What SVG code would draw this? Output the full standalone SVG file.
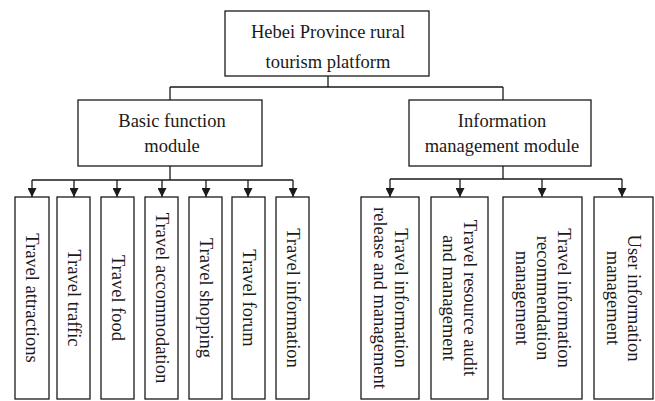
<svg xmlns="http://www.w3.org/2000/svg" width="655" height="401" viewBox="0 0 655 401">
<defs>
<style>
.box{fill:#fff;stroke:#1a1a1a;stroke-width:1.3}
.t{font-family:"Liberation Serif","Times New Roman",serif;font-size:18.5px;fill:#1a1a1a;text-anchor:middle}
.v{font-family:"Liberation Serif","Times New Roman",serif;font-size:18.5px;fill:#1a1a1a;text-anchor:middle}
.c{fill:none;stroke:#1a1a1a;stroke-width:1.3}
</style>
<marker id="ah" markerUnits="userSpaceOnUse" markerWidth="9" markerHeight="9" refX="9" refY="4.5" orient="auto">
<path d="M0,0 L9,4.5 L0,9 z" fill="#1a1a1a"/>
</marker>
</defs>
<rect width="655" height="401" fill="#fff"/>
<g id="connectors">
<path class="c" d="M328,76 V87 M170,87 H503 M170,87 V100 M503,87 V100"/>
<path class="c" d="M170,166 V180 M32,180 H293"/>
<path class="c" d="M503,166 V179 M390,179 H622"/>
<path class="c" marker-end="url(#ah)" d="M32,180 V197"/>
<path class="c" marker-end="url(#ah)" d="M74,180 V197"/>
<path class="c" marker-end="url(#ah)" d="M117,180 V197"/>
<path class="c" marker-end="url(#ah)" d="M162,180 V197"/>
<path class="c" marker-end="url(#ah)" d="M206,180 V197"/>
<path class="c" marker-end="url(#ah)" d="M248,180 V197"/>
<path class="c" marker-end="url(#ah)" d="M293,180 V197"/>
<path class="c" marker-end="url(#ah)" d="M390,179 V197"/>
<path class="c" marker-end="url(#ah)" d="M460,179 V197"/>
<path class="c" marker-end="url(#ah)" d="M542,179 V197"/>
<path class="c" marker-end="url(#ah)" d="M622,179 V197"/>
</g>
<g id="root">
<rect class="box" x="225" y="11" width="204" height="65"/>
<text class="t" x="328" y="38">Hebei Province rural</text>
<text class="t" x="328" y="68">tourism platform</text>
</g>
<g id="basic">
<rect class="box" x="78" y="100" width="184" height="66"/>
<text class="t" x="172" y="127">Basic function</text>
<text class="t" x="172" y="152">module</text>
</g>
<g id="info">
<rect class="box" x="409" y="100" width="182" height="66"/>
<text class="t" x="502" y="127">Information</text>
<text class="t" x="502" y="152">management module</text>
</g>
<g id="b1"><rect class="box" x="15" y="197" width="34" height="202"/><text class="v" transform="translate(32,298) rotate(90)" y="6">Travel attractions</text></g>
<g id="b2"><rect class="box" x="57" y="197" width="33" height="202"/><text class="v" transform="translate(73.5,298) rotate(90)" y="6">Travel traffic</text></g>
<g id="b3"><rect class="box" x="101" y="197" width="33" height="202"/><text class="v" transform="translate(117.5,298) rotate(90)" y="6">Travel food</text></g>
<g id="b4"><rect class="box" x="145" y="197" width="33" height="202"/><text class="v" transform="translate(161.5,298) rotate(90)" y="6">Travel accommodation</text></g>
<g id="b5"><rect class="box" x="189" y="197" width="33" height="202"/><text class="v" transform="translate(205.5,298) rotate(90)" y="6">Travel shopping</text></g>
<g id="b6"><rect class="box" x="232" y="197" width="33" height="202"/><text class="v" transform="translate(248.5,298) rotate(90)" y="6">Travel forum</text></g>
<g id="b7"><rect class="box" x="276" y="197" width="33" height="202"/><text class="v" transform="translate(292.5,298) rotate(90)" y="6">Travel information</text></g>
<g id="i1"><rect class="box" x="361" y="197" width="58" height="202"/><text class="v" transform="translate(390,298) rotate(90)"><tspan x="0" y="-4.5">Travel information</tspan><tspan x="0" y="16.5">release and management</tspan></text></g>
<g id="i2"><rect class="box" x="431" y="197" width="57" height="202"/><text class="v" transform="translate(459.5,298) rotate(90)"><tspan x="0" y="-4.5">Travel resource audit</tspan><tspan x="0" y="16.5">and management</tspan></text></g>
<g id="i3"><rect class="box" x="503" y="197" width="79" height="202"/><text class="v" transform="translate(542.5,298) rotate(90)"><tspan x="0" y="-15">Travel information</tspan><tspan x="0" y="6">recommendation</tspan><tspan x="0" y="27">management</tspan></text></g>
<g id="i4"><rect class="box" x="594" y="197" width="59" height="202"/><text class="v" transform="translate(623.5,298) rotate(90)"><tspan x="0" y="-4.5">User information</tspan><tspan x="0" y="16.5">management</tspan></text></g>
</svg>
